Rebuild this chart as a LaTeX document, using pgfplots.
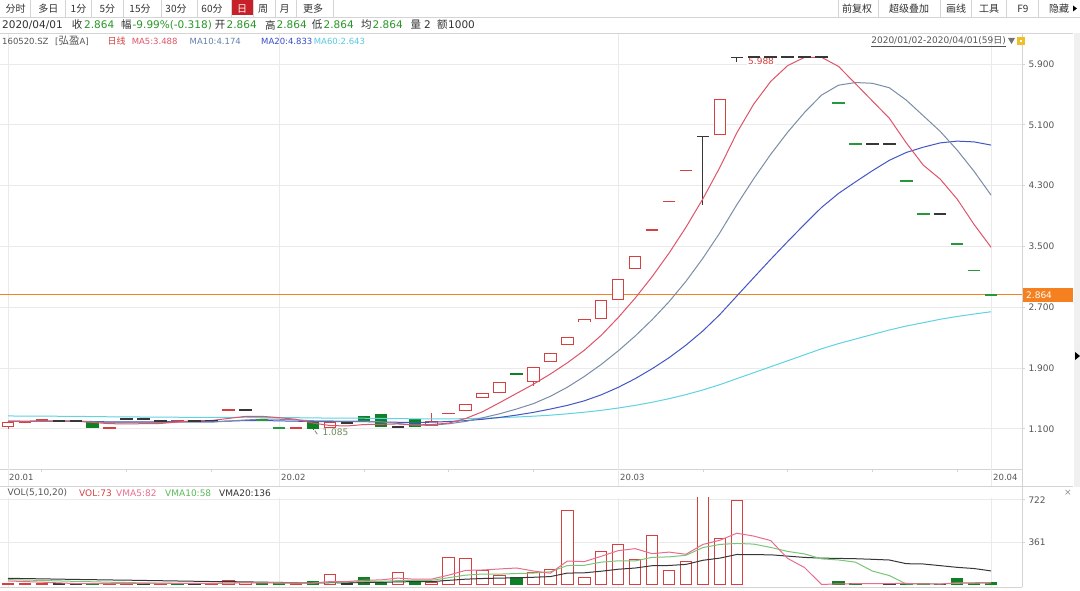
\documentclass[border=0pt]{standalone}
\usepackage{pgfplots}
\pgfplotsset{compat=1.18}
\usepackage{fontspec}
\setmainfont{DejaVu Sans}
\newfontfamily\cjk{Noto Sans CJK SC}

\definecolor{cred}{RGB}{214,64,64}
\definecolor{cgreen}{RGB}{14,128,38}
\definecolor{cgreen2}{RGB}{40,150,60}
\definecolor{cdark}{RGB}{55,55,55}
\definecolor{ma5}{RGB}{222,84,104}
\definecolor{ma10}{RGB}{122,140,168}
\definecolor{ma20}{RGB}{66,86,196}
\definecolor{ma60}{RGB}{96,210,226}
\definecolor{corange}{RGB}{245,128,32}
\definecolor{vma5}{RGB}{232,110,140}
\definecolor{vma10}{RGB}{120,198,120}
\definecolor{vma20}{RGB}{55,55,55}
\definecolor{tgray}{RGB}{85,85,85}
\definecolor{tdark}{RGB}{50,50,50}
\definecolor{gline}{RGB}{212,212,212}
\definecolor{gridc}{RGB}{234,234,234}
\definecolor{vgreen}{RGB}{40,150,40}
\definecolor{daybtn}{RGB}{200,32,40}
\definecolor{lowc}{RGB}{110,140,90}
\definecolor{ma10t}{RGB}{100,130,170}
\definecolor{ma20t}{RGB}{55,75,205}
\definecolor{ma60t}{RGB}{90,200,222}
\definecolor{vma10t}{RGB}{90,185,90}
\definecolor{iconc}{RGB}{240,190,40}

\pgfplotsset{
 body/.style 2 args={draw=none, mark=none, forget plot,
   /pgfplots/error bars/y dir=both, /pgfplots/error bars/y explicit,
   /pgfplots/error bars/error mark=none,
   /pgfplots/error bars/error bar style={line width=#2, draw=#1, solid}},
 dash/.style 2 args={only marks, mark=-, mark size=6.25pt, forget plot,
   mark options={draw=#1, line width=#2, solid}},
}

\begin{document}
\begin{tikzpicture}
\path[use as bounding box] (0pt,0pt) rectangle (1080pt,591pt);
\fill[white] (0pt,0pt) rectangle (1080pt,591pt);

% ---------------- price panel ----------------
\begin{axis}[
 at={(0pt,122pt)}, anchor=south west,
 width=1022pt, height=436pt, scale only axis,
 xmin=-0.472, xmax=59.823, ymin=0.5711, ymax=6.3079,
 axis x line*=bottom, axis y line*=right,
 axis line style={draw=gline, line width=0.8pt},
 xtick={2,7,12,21,26,31,41,46,51,56}, xticklabels={},
 extra x ticks={0,16,36,58}, extra x tick labels={},
 extra x tick style={grid=major, major tick length=0pt},
 ytick={1.1,1.9,2.7,3.5,4.3,5.1,5.9},
 yticklabel style={font=\fontsize{9}{10}\selectfont, text=tgray, /pgf/number format/fixed, /pgf/number format/fixed zerofill, /pgf/number format/precision=3},
 /pgf/number format/assume math mode=true,
 ymajorgrids, grid style={draw=gridc, line width=0.8pt},
 tick align=outside, major tick length=3pt,
 tick style={draw=gline, line width=0.8pt},
 clip=true,
]
\addplot[corange, line width=1pt] coordinates {(-1,2.864) (61,2.864)};

% ---- candles: wicks ----
\addplot[body={cred}{1pt}] coordinates {(0,1.115) +- (0,0.005) (0,1.195) +- (0,0.005) (25,1.2565) +- (0,0.0535) (31,1.6895) +- (0,0.0265)};
\addplot[body={cgreen}{1pt}] coordinates {(18,1.091) +- (0,0.006)};
\addplot[body={cdark}{1pt}] coordinates {(41,4.4995) +- (0,0.4495) (43,5.954) +- (0,0.034)};
% ---- candles: up bodies (hollow red) ----
\addplot[body={cred}{12.5pt}] coordinates {(0,1.155) +- (0,0.035) (1,1.19) +- (0,0.012) (2,1.2115) +- (0,0.012) (19,1.15) +- (0,0.04) (25,1.17) +- (0,0.033) (27,1.38) +- (0,0.046) (28,1.538) +- (0,0.033) (29,1.6435) +- (0,0.0725) (31,1.812) +- (0,0.096) (32,2.039) +- (0,0.06) (33,2.256) +- (0,0.053) (34,2.5225) +- (0,0.0175) (35,2.6695) +- (0,0.1245) (36,2.934) +- (0,0.139) (37,3.2915) +- (0,0.0885) (42,5.202) +- (0,0.242)};
\addplot[body={white}{10.5pt}] coordinates {(0,1.155) +- (0,0.0218) (19,1.15) +- (0,0.0268) (25,1.17) +- (0,0.0198) (27,1.38) +- (0,0.0328) (28,1.538) +- (0,0.0198) (29,1.6435) +- (0,0.0593) (31,1.812) +- (0,0.0828) (32,2.039) +- (0,0.0468) (33,2.256) +- (0,0.0398) (34,2.5225) +- (0,0.0043) (35,2.6695) +- (0,0.1113) (36,2.934) +- (0,0.1258) (37,3.2915) +- (0,0.0753) (42,5.202) +- (0,0.2288)};
% ---- candles: down bodies (filled green) ----
\addplot[body={cgreen}{12.5pt}] coordinates {(5,1.1505) +- (0,0.0435) (18,1.15) +- (0,0.053) (21,1.2355) +- (0,0.0325) (22,1.207) +- (0,0.083) (24,1.1765) +- (0,0.0525) (30,1.82) +- (0,0.012)};
% ---- candles: open = close ----
\addplot[dash={cred}{1.7pt}] coordinates {(6,1.115) (10,1.21) (13,1.347) (17,1.11) (26,1.30) (38,3.718) (39,4.090) (40,4.499)};
\addplot[dash={cgreen2}{1.7pt}] coordinates {(15,1.212) (16,1.11) (49,5.389) (50,4.850) (53,4.365) (54,3.929) (56,3.536) (57,3.182) (58,2.864)};
\addplot[dash={cdark}{1.7pt}] coordinates {(3,1.20) (4,1.207) (7,1.225) (8,1.225) (9,1.205) (11,1.203) (12,1.21) (14,1.347) (20,1.18) (23,1.124) (44,5.988) (45,5.988) (46,5.988) (47,5.988) (48,5.988) (51,4.850) (52,4.850) (55,3.929)};
\addplot[dash={cdark}{1.3pt}] coordinates {(41,4.949) (43,5.988)};

% ---- moving averages ----
\addplot[ma60, line width=1pt] coordinates {(0,1.269) (1,1.267) (2,1.266) (3,1.265) (4,1.263) (5,1.261) (6,1.258) (7,1.256) (8,1.255) (9,1.253) (10,1.252) (11,1.250) (12,1.249) (13,1.251) (14,1.252) (15,1.251) (16,1.248) (17,1.246) (18,1.243) (19,1.241) (20,1.240) (21,1.239) (22,1.236) (23,1.234) (24,1.231) (25,1.230) (26,1.231) (27,1.233) (28,1.238) (29,1.246) (30,1.255) (31,1.266) (32,1.279) (33,1.297) (34,1.318) (35,1.343) (36,1.373) (37,1.408) (38,1.449) (39,1.496) (40,1.550) (41,1.611) (42,1.681) (43,1.760) (44,1.838) (45,1.917) (46,1.995) (47,2.074) (48,2.153) (49,2.221) (50,2.281) (51,2.341) (52,2.400) (53,2.452) (54,2.496) (55,2.541) (56,2.578) (57,2.610) (58,2.640)};
\addplot[ma20, line width=1pt] coordinates {(0,1.200) (1,1.199) (2,1.200) (3,1.200) (4,1.200) (5,1.196) (6,1.191) (7,1.191) (8,1.192) (9,1.193) (10,1.193) (11,1.193) (12,1.194) (13,1.201) (14,1.208) (15,1.209) (16,1.204) (17,1.200) (18,1.195) (19,1.194) (20,1.194) (21,1.194) (22,1.189) (23,1.186) (24,1.182) (25,1.187) (26,1.196) (27,1.207) (28,1.225) (29,1.250) (30,1.280) (31,1.316) (32,1.360) (33,1.408) (34,1.468) (35,1.547) (36,1.645) (37,1.759) (38,1.890) (39,2.035) (40,2.201) (41,2.388) (42,2.604) (43,2.847) (44,3.090) (45,3.330) (46,3.564) (47,3.792) (48,4.013) (49,4.197) (50,4.349) (51,4.496) (52,4.633) (53,4.736) (54,4.805) (55,4.862) (56,4.885) (57,4.875) (58,4.833)};
\addplot[ma10, line width=1pt] coordinates {(0,1.199) (1,1.199) (2,1.200) (3,1.200) (4,1.200) (5,1.191) (6,1.182) (7,1.183) (8,1.184) (9,1.185) (10,1.187) (11,1.187) (12,1.187) (13,1.202) (14,1.216) (15,1.227) (16,1.226) (17,1.217) (18,1.206) (19,1.203) (20,1.201) (21,1.201) (22,1.192) (23,1.170) (24,1.147) (25,1.147) (26,1.166) (27,1.197) (28,1.245) (29,1.297) (30,1.360) (31,1.431) (32,1.528) (33,1.647) (34,1.788) (35,1.947) (36,2.125) (37,2.320) (38,2.535) (39,2.772) (40,3.041) (41,3.345) (42,3.680) (43,4.048) (44,4.392) (45,4.712) (46,5.003) (47,5.264) (48,5.491) (49,5.621) (50,5.656) (51,5.646) (52,5.587) (53,5.424) (54,5.219) (55,5.013) (56,4.767) (57,4.487) (58,4.174)};
\addplot[ma5, line width=1pt] coordinates {(0,1.198) (1,1.197) (2,1.201) (3,1.201) (4,1.201) (5,1.184) (6,1.167) (7,1.165) (8,1.167) (9,1.170) (10,1.189) (11,1.207) (12,1.209) (13,1.236) (14,1.263) (15,1.264) (16,1.246) (17,1.225) (18,1.175) (19,1.143) (20,1.137) (21,1.156) (22,1.159) (23,1.164) (24,1.151) (25,1.156) (26,1.175) (27,1.235) (28,1.325) (29,1.443) (30,1.565) (31,1.686) (32,1.821) (33,1.968) (34,2.133) (35,2.330) (36,2.563) (37,2.819) (38,3.101) (39,3.411) (40,3.752) (41,4.127) (42,4.540) (43,4.994) (44,5.374) (45,5.671) (46,5.879) (47,5.988) (48,5.988) (49,5.868) (50,5.641) (51,5.413) (52,5.185) (53,4.861) (54,4.569) (55,4.385) (56,4.122) (57,3.788) (58,3.488)};

\node[anchor=west, fill=white, inner sep=1pt, text=cred, font=\fontsize{9}{10}\selectfont] at (axis cs:43.6,5.93) {5.988};
\node[anchor=west, inner sep=0pt, text=lowc, font=\fontsize{9}{10}\selectfont] at (axis cs:18.55,1.055) {1.085};
\draw[draw=lowc, line width=0.8pt] (axis cs:18.25,1.03) -- (axis cs:18.1,1.075);
\end{axis}

% ---------------- volume panel ----------------
\begin{axis}[
 at={(0pt,4pt)}, anchor=south west,
 width=1022pt, height=89pt, scale only axis,
 xmin=-0.472, xmax=59.823, ymin=-21.3, ymax=738,
 axis x line*=bottom, axis y line*=right,
 axis line style={draw=gline, line width=0.8pt},
 xtick=\empty, extra x ticks={0,16,36,58}, extra x tick labels={},
 extra x tick style={grid=major, major tick length=0pt},
 ytick={361,722}, scaled y ticks=false,
 yticklabel style={font=\fontsize{9}{10}\selectfont, text=tgray, /pgf/number format/fixed, /pgf/number format/precision=0},
 /pgf/number format/assume math mode=true,
 ymajorgrids, grid style={draw=gridc, line width=0.8pt},
 tick align=outside, major tick length=3pt,
 tick style={draw=gline, line width=0.8pt},
 clip=true,
]
\addplot[ybar, bar width=11.5pt, bar shift=0pt, draw=cred, fill=white, line width=1pt] coordinates {(0,11) (1,9) (2,9) (6,8) (7,20) (9,8) (12,10) (13,37) (14,15) (17,5) (19,85) (23,100) (25,15) (26,228) (27,222) (28,117) (29,80) (31,100) (32,128) (33,634) (34,57) (35,284) (36,341) (37,213) (38,421) (39,122) (40,193) (41,760) (42,392) (43,720)};
\addplot[ybar, bar width=11.5pt, bar shift=0pt, draw=cgreen, fill=cgreen, line width=1pt] coordinates {(5,12) (10,8) (15,8) (16,5) (18,23) (21,60) (22,20) (24,37) (30,57) (49,28) (50,5) (53,5) (54,5) (56,51) (57,10) (58,15)};
\addplot[ybar, bar width=11.5pt, bar shift=0pt, draw=cdark, fill=cdark, line width=1pt] coordinates {(3,5) (4,5) (8,8) (11,8) (20,8) (52,8) (55,3)};
\addplot[vma20, line width=1pt] coordinates {(0,52.8) (1,50.5) (2,48.2) (3,45.7) (4,43.2) (5,41.1) (6,38.7) (7,37.0) (8,34.6) (9,32.3) (10,29.9) (11,27.6) (12,25.3) (13,24.4) (14,22.4) (15,20.1) (16,17.6) (17,15.1) (18,13.5) (19,15.0) (20,14.8) (21,17.4) (22,17.9) (23,22.7) (24,24.3) (25,24.4) (26,35.4) (27,45.5) (28,51.0) (29,54.6) (30,57.0) (31,61.6) (32,67.5) (33,97.4) (34,99.5) (35,113.3) (36,130.1) (37,140.5) (38,160.4) (39,162.2) (40,171.5) (41,206.5) (42,225.1) (43,256.1) (44,254.2) (45,253.5) (46,242.1) (47,231.0) (48,225.1) (49,222.5) (50,219.9) (51,214.9) (52,208.9) (53,177.5) (54,174.9) (55,160.8) (56,146.3) (57,136.2) (58,115.9)};
\addplot[vma10, line width=1pt] coordinates {(0,41.6) (1,38.0) (2,34.4) (3,30.4) (4,26.4) (5,23.1) (6,19.4) (7,16.9) (8,13.2) (9,9.5) (10,9.2) (11,9.1) (12,9.2) (13,12.4) (14,13.4) (15,13.0) (16,12.7) (17,11.2) (18,12.7) (19,20.4) (20,20.4) (21,25.6) (22,26.6) (23,32.9) (24,35.1) (25,35.8) (26,58.1) (27,79.8) (28,89.2) (29,88.7) (30,93.6) (31,97.6) (32,108.4) (33,161.8) (34,163.8) (35,190.7) (36,202.0) (37,201.1) (38,231.5) (39,235.7) (40,249.3) (41,315.3) (42,341.7) (43,350.3) (44,344.6) (45,316.2) (46,282.1) (47,260.8) (48,218.7) (49,209.3) (50,190.5) (51,114.5) (52,76.1) (53,4.6) (54,5.1) (55,5.4) (56,10.5) (57,11.5) (58,13.0)};
\addplot[vma5, line width=1pt] coordinates {(0,30.2) (1,25.0) (2,19.8) (3,13.8) (4,7.8) (5,8.0) (6,7.8) (7,10.0) (8,10.6) (9,11.2) (10,10.4) (11,10.4) (12,8.4) (13,14.2) (14,15.6) (15,15.6) (16,15.0) (17,14.0) (18,11.2) (19,25.2) (20,25.2) (21,36.2) (22,39.2) (23,54.6) (24,45.0) (25,46.4) (26,80.0) (27,120.4) (28,123.8) (29,132.4) (30,140.8) (31,115.2) (32,96.4) (33,199.8) (34,195.2) (35,240.6) (36,288.8) (37,305.8) (38,263.2) (39,276.2) (40,258.0) (41,341.8) (42,377.6) (43,437.4) (44,413.0) (45,374.4) (46,222.4) (47,144.0) (48,0) (49,5.6) (50,6.6) (51,6.6) (52,8.2) (53,9.2) (54,4.6) (55,4.2) (56,14.4) (57,14.8) (58,16.8)};
\end{axis}

% ---------------- frame, toolbar and texts ----------------
\begin{scope}[x=1pt,y=1pt]
\draw[gline, line width=0.8pt] (0,574) -- (1080,574);
\draw[gline, line width=0.8pt] (0,558) -- (1073,558);
\draw[gline, line width=0.8pt] (0,105) -- (1073,105);
\draw[gline, line width=0.8pt] (1022,4) -- (1022,558);
\foreach \xx in {8,279.2,618.2,991.1} {\draw[gridc, line width=0.8pt] (\xx,105) -- (\xx,122);}
\fill[black!6] (1074,104) rectangle (1080,558);
\fill[black] (1075,239) -- (1080,235) -- (1075,231) -- cycle;
\fill[corange] (1023,289) rectangle (1073,303);
\node[anchor=west, inner sep=0pt, text=white, font=\fontsize{9}{10}\selectfont] at (1026,296) {2.864};

\fill[daybtn] (231,576) rectangle (253,591);
\foreach \xx in {30.5,65.3,91.6,123,161,197,231,253,275,296,333} {\draw[gline, line width=0.8pt] (\xx,574) -- (\xx,591);}
\begin{scope}[every node/.style={inner sep=0pt, text=tdark, font=\cjk\fontsize{10}{12}\selectfont}]
\node at (15.5,582.5) {分时};
\node at (48.4,582.5) {多日};
\node at (78.5,582.5) {1分};
\node at (107.3,582.5) {5分};
\node at (140,582.5) {15分};
\node at (176,582.5) {30分};
\node at (212,582.5) {60分};
\node[text=white] at (242,582.5) {日};
\node at (263,582.5) {周};
\node at (284.5,582.5) {月};
\node at (313,582.5) {更多};
\node at (857,582.5) {前复权};
\node at (909,582.5) {超级叠加};
\node at (956,582.5) {画线};
\node at (989,582.5) {工具};
\node at (1023,582.5) {F9};
\node at (1059,582.5) {隐藏};
\end{scope}
\fill[black] (1073,585.5) -- (1077,582.5) -- (1073,579.5) -- cycle;
\foreach \xx in {838,878.6,940,971.6,1006.7,1038} {\draw[gline, line width=0.8pt] (\xx,574) -- (\xx,591);}

\begin{scope}[every node/.style={anchor=west, inner sep=0pt, font=\fontsize{10.5}{12}\selectfont}]
\node[text=tdark] at (2,566) {2020/04/01};
\node[text=tdark, font=\cjk\fontsize{10.5}{12}\selectfont] at (71.6,566) {收};
\node[text=vgreen] at (84,566) {2.864};
\node[text=tdark, font=\cjk\fontsize{10.5}{12}\selectfont] at (121,566) {幅};
\node[text=vgreen] at (132.5,566) {-9.99\%(-0.318)};
\node[text=tdark, font=\cjk\fontsize{10.5}{12}\selectfont] at (214.7,566) {开};
\node[text=vgreen] at (226.5,566) {2.864};
\node[text=tdark, font=\cjk\fontsize{10.5}{12}\selectfont] at (265,566) {高};
\node[text=vgreen] at (276.5,566) {2.864};
\node[text=tdark, font=\cjk\fontsize{10.5}{12}\selectfont] at (311.6,566) {低};
\node[text=vgreen] at (323.5,566) {2.864};
\node[text=tdark, font=\cjk\fontsize{10.5}{12}\selectfont] at (361,566) {均};
\node[text=vgreen] at (372.5,566) {2.864};
\node[text=tdark, font=\cjk\fontsize{10.5}{12}\selectfont] at (410.5,566) {量};
\node[text=tdark] at (424,566) {2};
\node[text=tdark, font=\cjk\fontsize{10.5}{12}\selectfont] at (436.8,566) {额};
\node[text=tdark] at (448,566) {1000};
\end{scope}

\begin{scope}[every node/.style={anchor=west, inner sep=0pt, font=\fontsize{8.5}{10}\selectfont}]
\node[text=tgray] at (2,550) {160520.SZ};
\node[text=tgray] at (55,550) {[{\cjk\fontsize{10.5}{12}\selectfont 弘盈}A]};
\node[text=cred, font=\cjk\fontsize{9}{10}\selectfont] at (107.5,550) {日线};
\node[text=ma5] at (131.6,550) {MA5:3.488};
\node[text=ma10t] at (189.5,550) {MA10:4.174};
\node[text=ma20t] at (261,550) {MA20:4.833};
\node[text=ma60t] at (313.7,550) {MA60:2.643};
\end{scope}
\node[anchor=east, inner sep=0pt, text=tgray, font=\fontsize{9}{10}\selectfont] (dr) at (1006,550) {2020/01/02-2020/04/01(59{\cjk 日})};
\draw[tgray, line width=0.6pt] ([yshift=-1.5pt]dr.south west) -- ([yshift=-1.5pt]dr.south east);
\fill[black!55] (1008,553) -- (1015,553) -- (1011.5,547) -- cycle;
\fill[iconc] (1017,546) rectangle (1025,554);
\fill[white] (1020,549) rectangle (1022,551);

\begin{scope}[every node/.style={anchor=west, inner sep=0pt, text=tgray, font=\fontsize{8.5}{10}\selectfont}]
\node at (9,114) {20.01};
\node at (281,114) {20.02};
\node at (620,114) {20.03};
\node at (993,114) {20.04};
\end{scope}

\begin{scope}[every node/.style={anchor=west, inner sep=0pt, font=\fontsize{9}{10}\selectfont}]
\node[text=tgray] at (7.4,98) {VOL(5,10,20)};
\node[text=cred] at (79,98) {VOL:73};
\node[text=vma5] at (116,98) {VMA5:82};
\node[text=vma10t] at (165,98) {VMA10:58};
\node[text=tdark] at (219,98) {VMA20:136};
\node[text=black!45] at (1064,98) {×};
\end{scope}
\end{scope}
\end{tikzpicture}
\end{document}
